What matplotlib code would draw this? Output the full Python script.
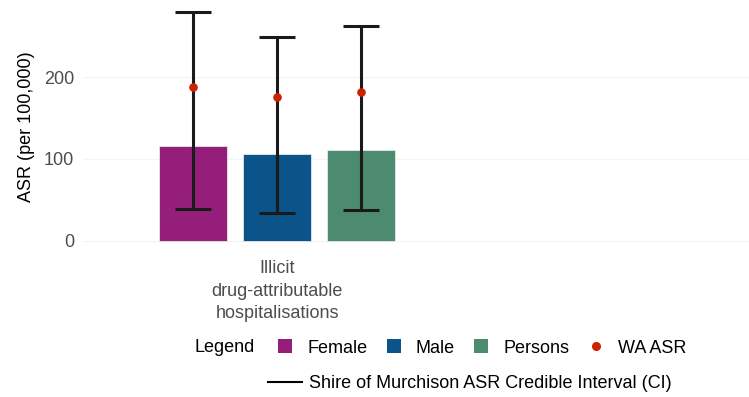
import numpy as np
import matplotlib
matplotlib.use("Agg")
import matplotlib.pyplot as plt
from matplotlib.lines import Line2D
from matplotlib.patches import Patch

plt.rcParams['font.family'] = ['Liberation Sans', 'DejaVu Sans']

groups = ["Female", "Male", "Persons"]
colours = ["#941e79", "#0b548a", "#4c8b70"]
asr = [116, 106, 111]
ci_low = [39, 33.5, 37]
ci_high = [279, 249, 263]
wa_asr = [188, 176, 182]
category = "Illicit\ndrug-attributable\nhospitalisations"

W, H = 749, 397
fs = 13
fig = plt.figure(figsize=(W / 100, H / 100), dpi=100)
ax = fig.add_axes([83 / W, 1 - 252 / H, (W - 83) / W, 251 / H])

offsets = np.array([-1, 0, 1])
for x, v, c in zip(offsets, asr, colours):
    ax.bar(x, v, width=0.81, color=c, edgecolor="#e8e8e8", linewidth=0.6, zorder=2)

ax.errorbar(offsets, asr,
            yerr=[np.array(asr) - np.array(ci_low), np.array(ci_high) - np.array(asr)],
            fmt="none", ecolor="#1a1a1a", elinewidth=2.2, capsize=13.3, capthick=2.2, zorder=3)
ax.scatter(offsets, wa_asr, s=27, color="#cc2200", zorder=4)

ax.set_xlim(-2.31, 5.62)
ax.set_ylim(-14, 293)
ax.set_yticks([0, 100, 200])
ax.set_xticks([0])
ax.set_xticklabels([category], color="#4d4d4d", fontsize=fs, linespacing=1.4)
ax.tick_params(axis="both", length=0, labelsize=fs, colors="#4d4d4d", pad=6.5)
ax.tick_params(axis="x", pad=6)
ax.set_ylabel("ASR (per 100,000)", fontsize=fs, color="black", labelpad=6.5)
for s in ax.spines.values():
    s.set_visible(False)
ax.grid(axis="y", color="#f4f4f4", linewidth=0.8, zorder=0)
ax.set_axisbelow(True)

fig.text(195 / W, 1 - 347 / H, "Legend", fontsize=fs, va="center", ha="left")
handles = [Patch(facecolor=c, edgecolor="none") for c in colours]
handles.append(Line2D([], [], marker="o", linestyle="none", color="#cc2200", markersize=5.5))
leg1 = fig.legend(handles, groups + ["WA ASR"], loc="center left",
                  bbox_to_anchor=(278 / W, 1 - 348 / H), ncol=4, frameon=False,
                  fontsize=fs, handlelength=0.8, handleheight=0.8, handletextpad=0.83,
                  columnspacing=1.05, borderaxespad=0, borderpad=0)
leg2 = fig.legend([Line2D([], [], color="black", linewidth=1.5)],
                  ["Shire of Murchison ASR Credible Interval (CI)"],
                  loc="center left", bbox_to_anchor=(268 / W, 1 - 384 / H),
                  frameon=False, fontsize=fs, handlelength=1.9, handletextpad=0.39,
                  borderaxespad=0, borderpad=0)

fig.savefig("out.png", dpi=100)
